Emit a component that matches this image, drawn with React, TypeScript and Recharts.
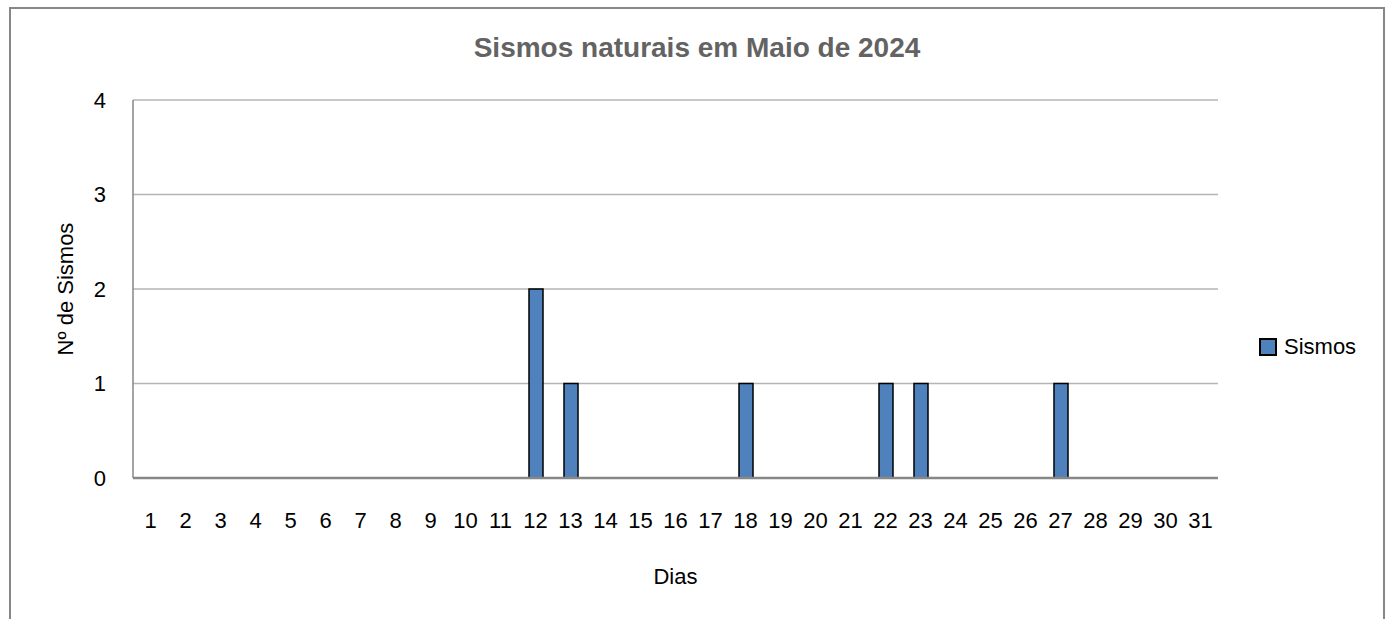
import { Bar, BarChart, CartesianGrid, XAxis, YAxis } from "recharts";

const days = [
  "1", "2", "3", "4", "5", "6", "7", "8", "9", "10", "11", "12", "13", "14", "15", "16",
  "17", "18", "19", "20", "21", "22", "23", "24", "25", "26", "27", "28", "29", "30", "31",
];
const sismos = [0, 0, 0, 0, 0, 0, 0, 0, 0, 0, 0, 2, 1, 0, 0, 0, 0, 1, 0, 0, 0, 1, 1, 0, 0, 0, 1, 0, 0, 0, 0];
const yTicks = [0, 1, 2, 3, 4];

const data = days.map((d, i) => ({ dia: d, sismos: sismos[i] }));

const FONT = "'Liberation Sans', Arial, sans-serif";

export default function App() {
  return (
    <div style={{ position: "relative", width: 1391, height: 619, overflow: "hidden", background: "#fff", fontFamily: FONT }}>
      <style>{`body{margin:0;overflow:hidden}`}</style>
      <div
        style={{
          position: "absolute",
          left: 9,
          top: 7,
          width: 1376,
          height: 700,
          border: "2px solid #878787",
          boxSizing: "border-box",
        }}
      />
      <div
        style={{
          position: "absolute",
          left: 9,
          top: 34,
          width: 1376,
          textAlign: "center",
          fontSize: 28,
          lineHeight: 1,
          fontWeight: "bold",
          color: "#636363",
        }}
      >
        Sismos naturais em Maio de 2024
      </div>
      <div style={{ position: "absolute", left: 0, top: 0 }}>
        <BarChart width={1391} height={619} data={data} margin={{ top: 100, right: 173, bottom: 81, left: 33 }}>
          <CartesianGrid horizontal vertical={false} stroke="#b5b5b5" strokeWidth={1.5} />
          <XAxis
            dataKey="dia"
            height={60}
            tickLine={false}
            tickSize={0}
            tickMargin={34}
            axisLine={{ stroke: "#878787", strokeWidth: 2.5 }}
            tick={{ fill: "#000", fontSize: 22, fontFamily: FONT }}
            interval={0}
            label={({ viewBox }: any) => (
              <text
                x={viewBox.x + viewBox.width / 2}
                y={viewBox.y + 98}
                textAnchor="middle"
                dominantBaseline="central"
                fontSize={22}
                fontFamily={FONT}
                fill="#000"
              >
                Dias
              </text>
            )}
          />
          <YAxis
            width={100}
            domain={[0, 4]}
            ticks={yTicks}
            tickLine={false}
            tickSize={0}
            tickMargin={27}
            axisLine={{ stroke: "#878787", strokeWidth: 1.5 }}
            tick={{ fill: "#000", fontSize: 22, fontFamily: FONT }}
            label={({ viewBox }: any) => (
              <text
                x={viewBox.x + 32}
                y={viewBox.y + viewBox.height / 2}
                textAnchor="middle"
                dominantBaseline="central"
                fontSize={22}
                fontFamily={FONT}
                fill="#000"
                transform={`rotate(-90, ${viewBox.x + 32}, ${viewBox.y + viewBox.height / 2})`}
              >
                Nº de Sismos
              </text>
            )}
          />
          <Bar
            dataKey="sismos"
            name="Sismos"
            fill="#4f81bd"
            stroke="#000"
            strokeWidth={1.5}
            barSize={14}
            isAnimationActive={false}
          />
        </BarChart>
      </div>
      <div
        style={{
          position: "absolute",
          left: 1259,
          top: 334,
          display: "flex",
          alignItems: "center",
          fontSize: 22,
          lineHeight: "26px",
          color: "#000",
        }}
      >
        <span
          style={{
            display: "inline-block",
            width: 14,
            height: 14,
            background: "#4f81bd",
            border: "2px solid #000",
            marginRight: 7,
          }}
        />
        Sismos
      </div>
    </div>
  );
}
